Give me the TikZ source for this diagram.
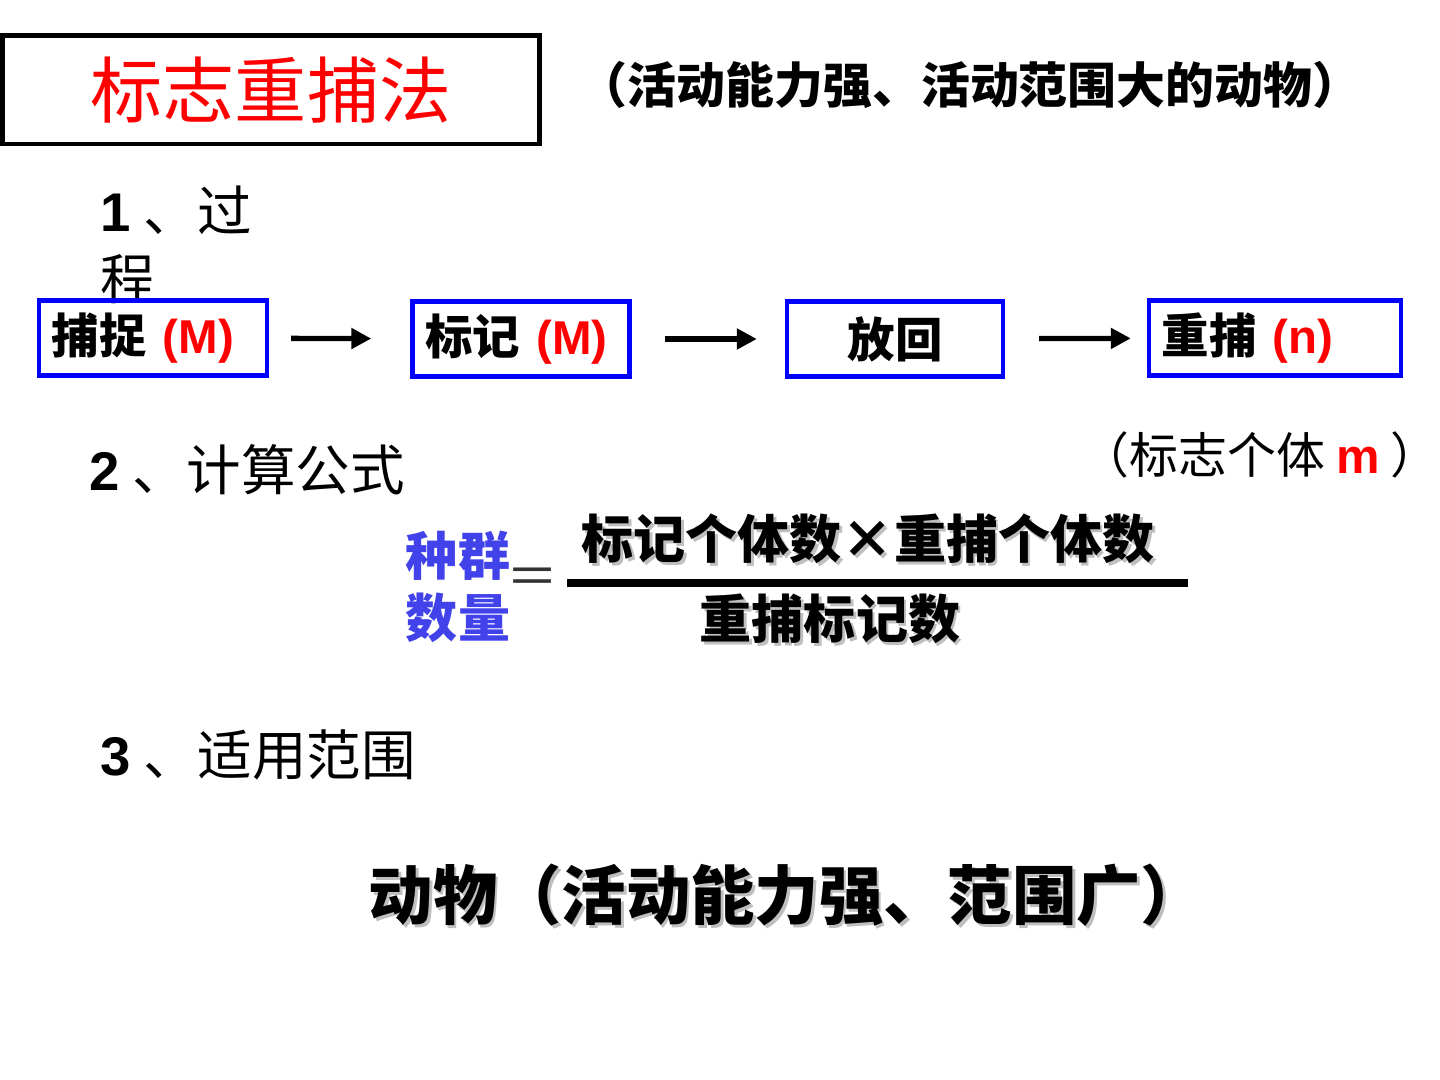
\documentclass[tikz,border=0pt]{standalone}
\usepackage{fontspec}
\setmainfont{Liberation Sans}
\newfontfamily\cjk{Noto Sans CJK SC}
\newfontfamily\lat{Liberation Sans}
\usetikzlibrary{arrows.meta}
\definecolor{popblue}{RGB}{66,66,235}
% text with a light drop shadow
\newcommand{\shadowed}[1]{\makebox[0pt][l]{\kern0.8pt\raisebox{-0.8pt}{\color{black!25}#1}}#1}

\begin{document}
\begin{tikzpicture}[x=0.01cm,y=-0.01cm,
  stepbox/.style={draw=blue,line width=1.2pt,minimum height=0.75cm,inner xsep=0.13cm,
    align=left,font=\cjk\bfseries\fontsize{13.5}{15}\selectfont},
  flow/.style={line width=1.5pt,-{Triangle[length=0.2cm,width=0.2cm]}},
  heading/.style={anchor=west,align=left,inner xsep=0pt,font=\cjk\fontsize{15.5}{19.3}\selectfont},
  formula/.style={font=\cjk\bfseries\fontsize{14.8}{17.6}\selectfont}]

\useasboundingbox[fill=white] (0,0) rectangle (1440,1080);

% Title
\node[draw,line width=1.4pt,minimum width=5.36cm,minimum height=1.08cm,text=red,
  font=\cjk\fontsize{20.5}{24}\selectfont] (title) at (271,90) {标志重捕法};
\node[font=\cjk\bfseries\fontsize{13.9}{16}\selectfont] (scope) at (970,85)
  {（活动能力强、活动范围大的动物）};

% 1 -- process
\node[heading] (proc) at (100,245) {{\lat\bfseries 1} 、过\\程};

\node[stepbox,text width=2.02cm] (catch) at (153,338) {捕捉 {\lat\bfseries\color{red}(M)}};
\node[stepbox,text width=1.91cm] (mark) at (521,339) {标记 {\lat\bfseries\color{red}(M)}};
\node[stepbox,text width=1.90cm,align=center] (release) at (895,339) {放回};
\node[stepbox,text width=2.26cm] (recatch) at (1275,338) {重捕 {\lat\bfseries\color{red}(n)}};

\draw[flow,shorten <=0.22cm,shorten >=0.39cm] (catch) -- (mark);
\draw[flow,shorten <=0.33cm,shorten >=0.28cm] (mark) -- (release);
\draw[flow,shorten <=0.34cm,shorten >=0.16cm] (release) -- (recatch);

% 2 -- formula
\node[heading] (calc) at (89,470) {{\lat\bfseries 2} 、计算公式};
\node[font=\cjk\fontsize{13.9}{16}\selectfont] (marked) at (1260,455)
  {（标志个体 {\lat\bfseries\color{red}m} ）};

\node[formula,text=popblue,align=center] (pop) at (458,587) {种群\\数量};
\node[font=\cjk\fontsize{14.8}{17.6}\selectfont,text=black!80] (eq) at (533,582) {＝};
\draw[line width=2pt] (567,583) -- (1188,583);
\node[formula] (num) at (868,540) {\shadowed{标记个体数×重捕个体数}};
\node[formula] (den) at (830,620) {\shadowed{重捕标记数}};

% 3 -- range
\node[heading] (range) at (100,755) {{\lat\bfseries 3} 、适用范围};
\node[font=\cjk\bfseries\fontsize{18.3}{21}\selectfont] (animal) at (787,897)
  {\shadowed{动物（活动能力强、范围广）}};

\end{tikzpicture}
\end{document}
